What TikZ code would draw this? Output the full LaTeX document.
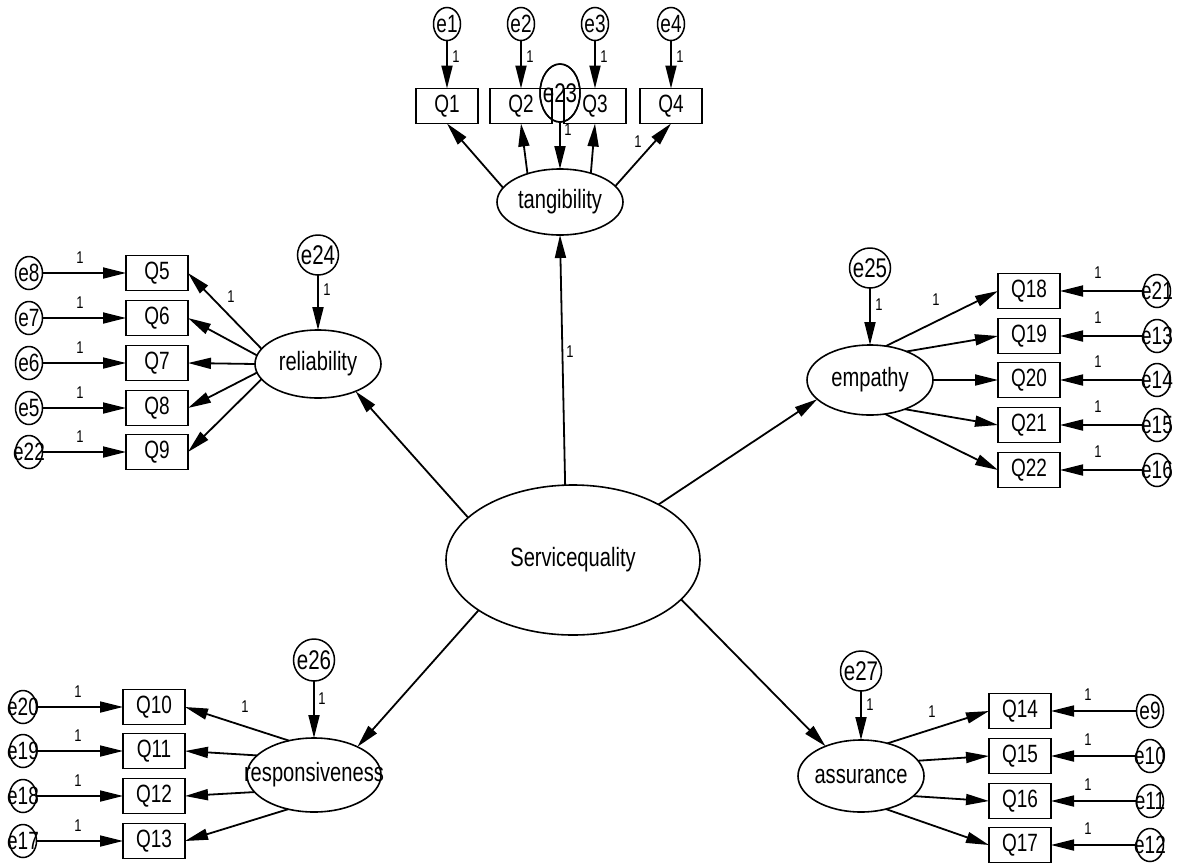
\documentclass[tikz,border=0pt]{standalone}
\usepackage{fontspec}
\setmainfont{Liberation Sans}[FakeStretch=0.76]
\usetikzlibrary{arrows.meta,shapes.geometric}
% zero-width text, so a label may run past its shape's border
\newcommand{\zw}[1]{\makebox[0pt][c]{#1}}
\begin{document}
\begin{tikzpicture}[x=1pt,y=-1pt,
  every node/.style={inner sep=0pt,outer sep=0pt},
  obs/.style={draw,line width=1.6pt,minimum width=62pt,minimum height=35pt,
    font=\fontsize{25}{27}\selectfont},
  lat/.style={draw,ellipse,line width=1.6pt,font=\fontsize{26.5}{28}\selectfont},
  err/.style={draw,ellipse,line width=1.5pt,minimum width=27pt,minimum height=33pt,
    font=\fontsize{25}{27}\selectfont},
  dist/.style={draw,ellipse,line width=1.5pt,minimum width=41pt,minimum height=40pt,
    font=\fontsize{27}{28}\selectfont},
  path/.style={line width=1.8pt,-{Triangle[length=23pt,width=11pt]}},
  wt/.style={font=\fontsize{17}{18}\selectfont}
]
\useasboundingbox (0,0) rectangle (1181,863);

% ---------- second-order factor ----------
\node[lat,minimum width=254pt,minimum height=150pt] (sq) at (573,560) {\zw{Servicequality}};

% ---------- first-order factors ----------
\node[lat,minimum width=126pt,minimum height=66pt] (tang) at (560,202) {\zw{tangibility}};
\node[lat,minimum width=126pt,minimum height=68pt] (rel)  at (318,364) {\zw{reliability}};
\node[lat,minimum width=126pt,minimum height=70pt] (emp)  at (870,380) {\zw{empathy}};
\node[lat,minimum width=134pt,minimum height=74pt] (resp) at (314,775) {\zw{responsiveness}};
\node[lat,minimum width=126pt,minimum height=72pt] (asr)  at (861,776) {\zw{assurance}};

% ---------- disturbances ----------
\node[dist,minimum width=40pt,minimum height=58pt] (e23) at (560,93) {\zw{e23}};
\node[dist] (e24) at (318,255) {\zw{e24}};
\node[dist] (e25) at (870,268) {\zw{e25}};
\node[dist,minimum height=42pt] (e26) at (314,660) {\zw{e26}};
\node[dist] (e27) at (861,671) {\zw{e27}};

\draw[path] (e23) -- (tang);
\draw[path] (e24) -- (rel);
\draw[path] (e25) -- (emp);
\draw[path] (e26) -- (resp);
\draw[path] (e27) -- (asr);
\node[wt] (w23) at (568,130) {1};
\node[wt] (w24) at (327,290) {1};
\node[wt] (w25) at (879,305) {1};
\node[wt] (w26) at (322,699) {1};
\node[wt] (w27) at (870,705) {1};

% ---------- structural paths ----------
\draw[path] (sq.96)  -- (tang.270);
\draw[path] (sq.158) -- (rel.-36);
\draw[path] (sq.33)  -- (emp.200);
\draw[path] (sq.208) -- (resp.33);
\draw[path] (sq.-20) -- (asr.140);
\node[wt] (wsq) at (570,352) {1};

% ---------- tangibility indicators ----------
\foreach \q/\x/\a in {1/447/166,2/521/139,3/595/43,4/671/16}{
  \node[obs] (Q\q) at (\x,106) {Q\q};
  \node[err] (e\q) at (\x,24) {\zw{e\q}};
  \draw[path] (e\q) -- (Q\q);
  \draw[path] (tang.\a) -- (Q\q.south);
  \node[wt] (we\q) at (\x+9,57) {1};
}
\node[wt] (wt4) at (638,142) {1};
% e23 is drawn again so it lies over the boxes
\node[dist,minimum width=40pt,minimum height=58pt] (e23b) at (560,93) {};

% ---------- reliability indicators ----------
\foreach \q/\e/\y/\a in {5/8/273/165,6/7/318/172,7/6/363/180,8/5/408/188,9/22/452/195}{
  \node[obs] (Q\q) at (157,\y) {Q\q};
  \node[err] (e\e) at (29,\y) {\zw{e\e}};
  \draw[path] (e\e) -- (Q\q);
  \draw[path] (rel.\a) -- (Q\q.east);
  \node[wt] (we\e) at (80,\y-15) {1};
}
\node[wt] (wr5) at (231,297) {1};

% ---------- empathy indicators ----------
\foreach \q/\e/\y/\a in {18/21/291/65,19/13/336/38,20/14/380/0,21/15/425/-40,22/16/470/-66}{
  \node[obs] (Q\q) at (1029,\y) {Q\q};
  \node[err] (e\e) at (1157,\y) {\zw{e\e}};
  \draw[path] (e\e) -- (Q\q);
  \draw[path] (emp.\a) -- (Q\q.west);
  \node[wt] (we\e) at (1098,\y-18) {1};
}
\node[wt] (wm18) at (936,300) {1};

% ---------- responsiveness indicators ----------
\foreach \q/\e/\y/\a in {10/20/707/126,11/19/751/161,12/18/796/196,13/17/841/233}{
  \node[obs] (Q\q) at (154,\y) {Q\q};
  \node[err] (e\e) at (23,\y) {\zw{e\e}};
  \draw[path] (e\e) -- (Q\q);
  \draw[path] (resp.\a) -- (Q\q.east);
  \node[wt] (we\e) at (78,\y-15) {1};
}
\node[wt] (wp10) at (245,707) {1};

% ---------- assurance indicators ----------
\foreach \q/\e/\y/\a in {14/9/711/51,15/10/756/15,16/11/801/-21,17/12/845/-53}{
  \node[obs] (Q\q) at (1020,\y) {Q\q};
  \node[err] (e\e) at (1150,\y) {\zw{e\e}};
  \draw[path] (e\e) -- (Q\q);
  \draw[path] (asr.\a) -- (Q\q.west);
  \node[wt] (we\e) at (1088,\y-16) {1};
}
\node[wt] (wa14) at (932,712) {1};
\end{tikzpicture}
\end{document}
